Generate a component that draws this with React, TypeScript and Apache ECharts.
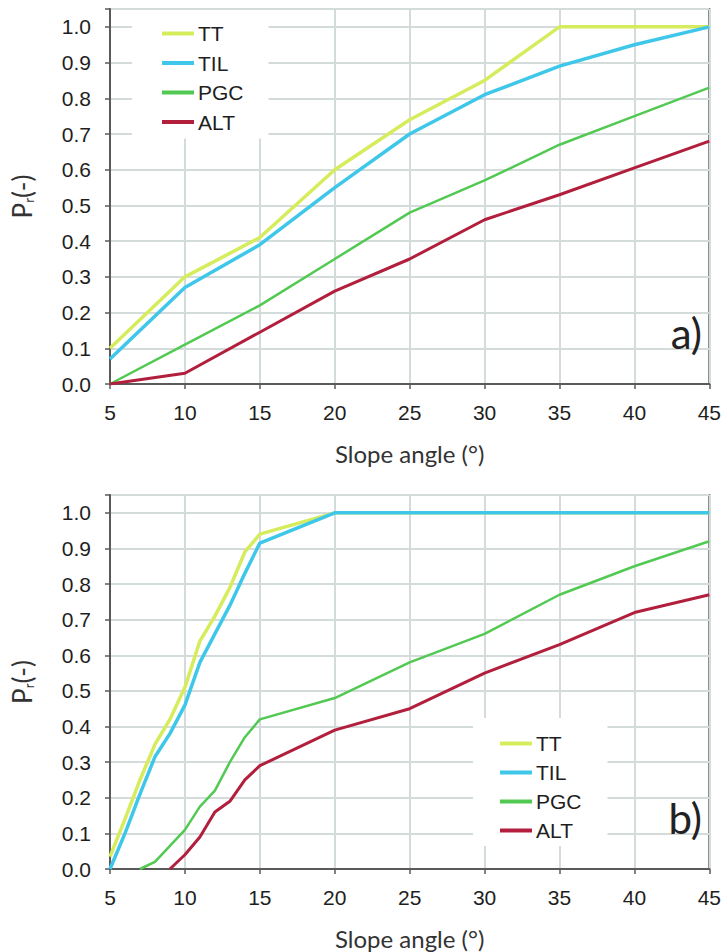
import React, { useEffect, useRef } from "react";
import * as echarts from "echarts";

const SERIES_NAMES = ["TT", "TIL", "PGC", "ALT"];
const SERIES_COLORS = ["#d6ec5c", "#3fc7ea", "#52c952", "#b21f3d"];
const SERIES_WIDTHS = [3.5, 3.5, 2.5, 3];

// Panel a)
const X_A = [5, 10, 15, 20, 25, 30, 35, 40, 45];
const TT_A = [0.1, 0.3, 0.41, 0.6, 0.74, 0.85, 1.0, 1.0, 1.0];
const TIL_A = [0.07, 0.27, 0.39, 0.55, 0.7, 0.81, 0.89, 0.95, 1.0];
const PGC_A = [0.0, 0.11, 0.22, 0.35, 0.48, 0.57, 0.67, 0.75, 0.83];
const ALT_A = [0.0, 0.03, 0.145, 0.26, 0.35, 0.46, 0.53, 0.605, 0.68];

// Panel b)
const X_B = [5, 6, 7, 8, 9, 10, 11, 12, 13, 14, 15, 20, 25, 30, 35, 40, 45];
const TT_B = [0.035, 0.14, 0.25, 0.35, 0.42, 0.51, 0.64, 0.71, 0.79, 0.89, 0.94, 1.0, 1.0, 1.0, 1.0, 1.0, 1.0];
const TIL_B = [0.0, 0.1, 0.21, 0.315, 0.38, 0.46, 0.58, 0.66, 0.74, 0.83, 0.915, 1.0, 1.0, 1.0, 1.0, 1.0, 1.0];
const PGC_B = [0, 0, 0, 0.02, 0.065, 0.11, 0.175, 0.22, 0.3, 0.37, 0.42, 0.48, 0.58, 0.66, 0.77, 0.85, 0.92];
const ALT_B = [0, 0, 0, 0, 0, 0.04, 0.09, 0.16, 0.19, 0.25, 0.29, 0.39, 0.45, 0.55, 0.63, 0.72, 0.77];

const X_TICKS = { min: 5, max: 45, interval: 5 };
const Y_TICKS = { min: 0, max: 1.05, interval: 0.1 };

const AXIS_COLOR = "#5a5a5a";
const GRID_COLOR = "#d4dbdb";
const LABEL_FONT = "'Liberation Sans', Arial, sans-serif";
const TITLE_FONT = "Lato, 'Open Sans', sans-serif";

function pairs(xs: number[], ys: number[]) {
  return ys.map((y, i) => {
    if (y === 0 && i + 1 < ys.length && ys[i + 1] === 0) return [xs[i], "-"];
    return [xs[i], y];
  });
}

function makeXAxis(gridIndex: number) {
  return {
    type: "value",
    gridIndex,
    min: X_TICKS.min,
    max: X_TICKS.max,
    interval: X_TICKS.interval,
    name: "Slope angle (°)",
    nameLocation: "middle",
    nameGap: 57,
    nameTextStyle: { fontFamily: TITLE_FONT, fontSize: 24, color: "#333" },
    axisLine: { show: true, lineStyle: { color: AXIS_COLOR, width: 2 } },
    axisTick: { show: true, inside: false, length: 5, lineStyle: { color: AXIS_COLOR, width: 1.5 } },
    axisLabel: { margin: 18, fontFamily: LABEL_FONT, fontSize: 21, color: "#1e1e1e" },
    splitLine: { show: true, lineStyle: { color: GRID_COLOR, width: 2 } },
  };
}

function makeYAxis(gridIndex: number) {
  return {
    type: "value",
    gridIndex,
    min: Y_TICKS.min,
    max: Y_TICKS.max,
    interval: Y_TICKS.interval,
    name: "{a|P}{b|r}{a|(-)}",
    nameLocation: "middle",
    nameGap: 75,
    nameTextStyle: {
      color: "#333",
      rich: {
        a: { fontFamily: TITLE_FONT, fontSize: 26, color: "#333" },
        b: { fontFamily: TITLE_FONT, fontSize: 13, color: "#333", verticalAlign: "bottom" },
      },
    },
    axisLine: { show: true, lineStyle: { color: AXIS_COLOR, width: 2 } },
    axisTick: { show: true, inside: false, length: 5, lineStyle: { color: AXIS_COLOR, width: 1.5 } },
    axisLabel: {
      margin: 19,
      fontFamily: LABEL_FONT,
      fontSize: 21,
      color: "#1e1e1e",
      formatter: (v: number) => (v > 1.0001 ? "" : v.toFixed(1)),
    },
    splitLine: { show: true, lineStyle: { color: GRID_COLOR, width: 2 } },
  };
}

function makeSeries(gridIndex: number, xs: number[], data: number[][]) {
  return data.map((ys, i) => ({
    name: SERIES_NAMES[i],
    type: "line",
    xAxisIndex: gridIndex,
    yAxisIndex: gridIndex,
    data: pairs(xs, ys),
    showSymbol: false,
    symbol: "none",
    connectNulls: false,
    color: SERIES_COLORS[i],
    itemStyle: { color: SERIES_COLORS[i] },
    lineStyle: { color: SERIES_COLORS[i], width: SERIES_WIDTHS[i] },
  }));
}

function makeLegend(left: number, top: number, gap: number, padding: number[]) {
  return {
    orient: "vertical",
    left,
    top,
    itemGap: gap,
    itemWidth: 32,
    itemHeight: 4,
    icon: "rect",
    padding,
    backgroundColor: "#ffffff",
    selectedMode: false,
    data: SERIES_NAMES,
    textStyle: { fontFamily: LABEL_FONT, fontSize: 21, color: "#1e1e1e", padding: [0, 0, 0, -1] },
  };
}

export default function App() {
  const ref = useRef<HTMLDivElement>(null);
  useEffect(() => {
    if (!ref.current) return;
    const chart = echarts.init(ref.current, undefined, { renderer: "svg" });
    const option = {
      animation: false,
      backgroundColor: "#ffffff",
      grid: [
        { left: 110, right: 13, top: 9, height: 375, show: true, borderColor: AXIS_COLOR, borderWidth: 2, containLabel: false },
        { left: 110, right: 13, top: 495, height: 374, show: true, borderColor: AXIS_COLOR, borderWidth: 2, containLabel: false },
      ],
      xAxis: [makeXAxis(0), makeXAxis(1)],
      yAxis: [makeYAxis(0), makeYAxis(1)],
      legend: [
        makeLegend(132, 10, 8.5, [13, 25, 6, 30]),
        makeLegend(473, 718, 8, [15, 26, 5, 27]),
      ],
      series: [
        ...makeSeries(0, X_A, [TT_A, TIL_A, PGC_A, ALT_A]),
        ...makeSeries(1, X_B, [TT_B, TIL_B, PGC_B, ALT_B]),
      ],
      graphic: [
        {
          type: "text",
          right: 22,
          top: 312,
          style: { text: "a)", fontFamily: TITLE_FONT, fontSize: 42, fill: "#222" },
          z: 10,
        },
        {
          type: "text",
          right: 22,
          top: 797,
          style: { text: "b)", fontFamily: TITLE_FONT, fontSize: 42, fill: "#222" },
          z: 10,
        },
      ],
    };
    chart.setOption(option as any);
    return () => chart.dispose();
  }, []);
  return (
    <div
      ref={ref}
      style={{ position: "absolute", left: 0, top: 0, width: 724, height: 952, background: "#fff" }}
    />
  );
}
